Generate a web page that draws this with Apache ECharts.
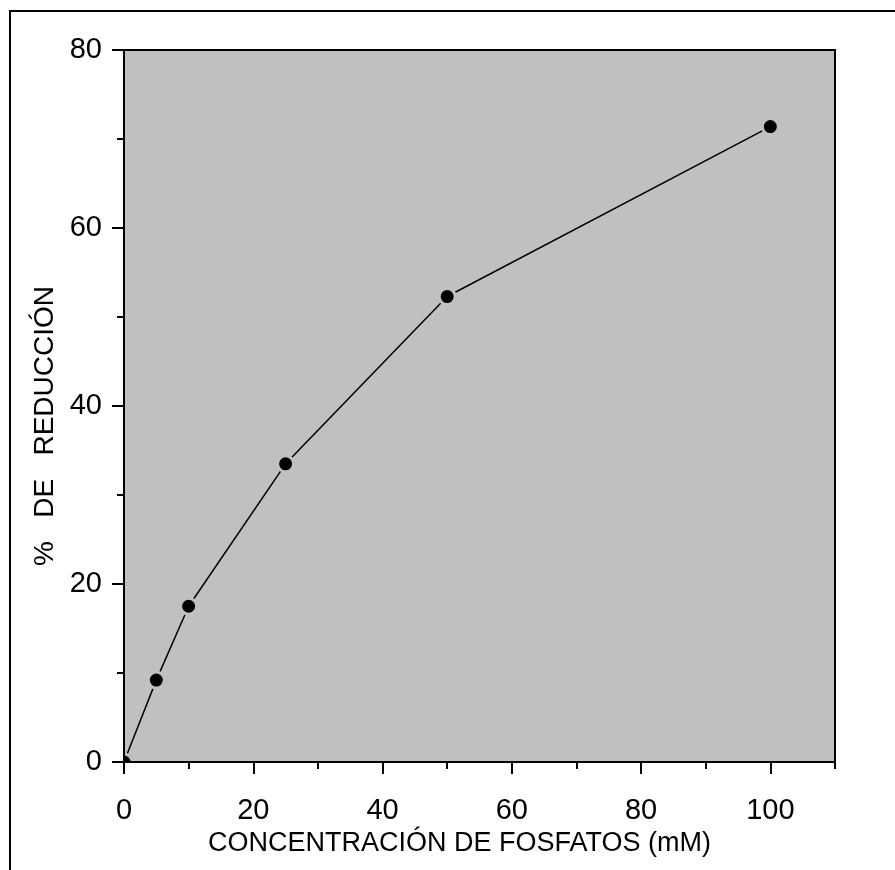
<!DOCTYPE html>
<html>
<head>
<meta charset="utf-8">
<script src="https://cdn.jsdelivr.net/npm/echarts@6/dist/echarts.min.js"></script>
<style>
  html, body { margin: 0; padding: 0; background: #fff; }
  #chart { width: 895px; height: 870px; }
</style>
</head>
<body>
<div id="chart"></div>
<script>
// concentración (mM) y % de reducción
const concentracion = [0, 5, 10, 25, 50, 100]
const reduccion = [0, 9.2, 17.5, 33.5, 52.3, 71.4]

const xMajorTicks = [0, 20, 40, 60, 80, 100]
const xMinorTicks = [10, 30, 50, 70, 90, 110]

const points = concentracion.map((x, i) => [x, reduccion[i]])

const chart = echarts.init(document.getElementById("chart"))
const font = "Liberation Sans, Arial, sans-serif"

const option = {
  animation: false,
  backgroundColor: "#fff",
  graphic: [
    {
      type: "rect",
      shape: { x: 10, y: 11, width: 1000, height: 1000 },
      style: { fill: "none", stroke: "#000", lineWidth: 2 },
      silent: true,
    },
  ],
  grid: {
    left: 124,
    top: 50,
    right: 60,
    bottom: 108,
    show: true,
    backgroundColor: "#c0c0c0",
    borderColor: "#000",
    borderWidth: 2,
  },
  xAxis: [
    {
      type: "value",
      min: 0,
      max: 110,
      position: "bottom",
      z: 5,
      axisLine: { show: true, onZero: false, lineStyle: { color: "#000", width: 2 } },
      axisTick: { show: true, customValues: xMajorTicks, length: 12, lineStyle: { color: "#000", width: 2 } },
      axisLabel: { customValues: xMajorTicks, margin: 34, color: "#000", fontSize: 29, fontFamily: font },
      splitLine: { show: false },
      name: "CONCENTRACIÓN DE FOSFATOS (mM)",
      nameLocation: "middle",
      nameGap: 66,
      nameTextStyle: { color: "#000", fontSize: 27, fontFamily: font, padding: [0, 40, 0, 0] },
    },
    {
      type: "value",
      min: 0,
      max: 110,
      position: "bottom",
      axisLine: { show: false, onZero: false },
      axisTick: { show: true, customValues: xMinorTicks, length: 7, lineStyle: { color: "#000", width: 2 } },
      axisLabel: { show: false },
      splitLine: { show: false },
    },
  ],
  yAxis: {
    type: "value",
    min: 0,
    max: 80,
    interval: 20,
    z: 5,
    axisLine: { show: true, onZero: false, lineStyle: { color: "#000", width: 2 } },
    axisTick: { show: true, length: 12, lineStyle: { color: "#000", width: 2 } },
    minorTick: { show: true, splitNumber: 2, length: 7, lineStyle: { color: "#000", width: 2 } },
    axisLabel: { margin: 22, color: "#000", fontSize: 29, fontFamily: font },
    splitLine: { show: false },
    name: "%   DE   REDUCCIÓN",
    nameLocation: "middle",
    nameRotate: 90,
    nameGap: 61,
    nameTextStyle: { color: "#000", fontSize: 28, fontFamily: font, padding: [0, 40, 0, 0] },
  },
  series: [
    {
      type: "line",
      data: points,
      showSymbol: false,
      clip: true,
      lineStyle: { color: "#000", width: 1.5 },
      z: 2,
    },
    {
      type: "custom",
      data: points,
      clip: true,
      z: 3,
      renderItem: function (params, api) {
        const p = api.coord([api.value(0), api.value(1)])
        return {
          type: "circle",
          shape: { cx: p[0], cy: p[1], r: 8 },
          style: { fill: "#000", stroke: "#c0c0c0", lineWidth: 3 },
        }
      },
    },
  ],
}

option && chart.setOption(option)
</script>
</body>
</html>
